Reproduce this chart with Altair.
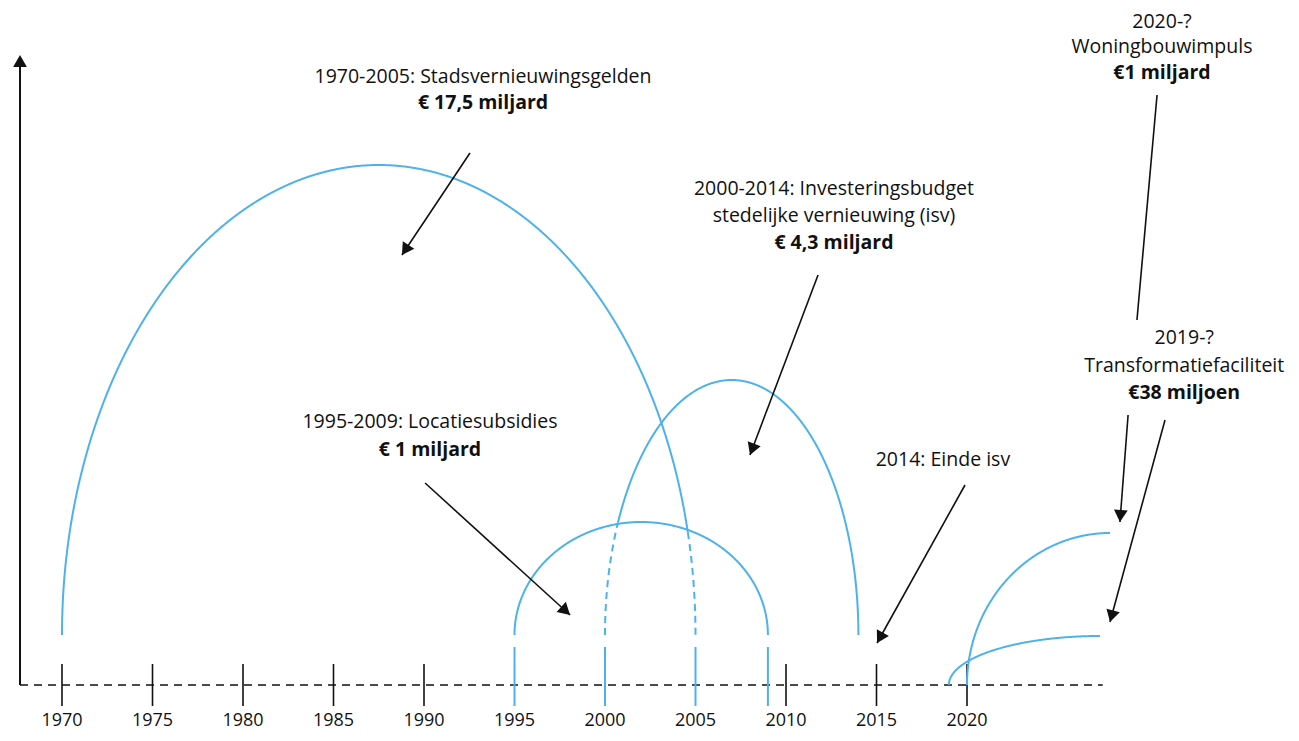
import altair as alt
import numpy as np
import pandas as pd

# ---------------- data ----------------
tick_years = [1970, 1975, 1980, 1985, 1990, 1995, 2000, 2005, 2010, 2015, 2020]
black_tick_years = [1970, 1975, 1980, 1985, 1990, 2010, 2015, 2020]
blue_stub_years = [1995, 2000, 2005, 2009]

# half-arc programmes (start, end, relative height)
arc_names = ["Stadsvernieuwingsgelden", "Locatiesubsidies", "ISV"]
arc_start = [1970, 1995, 2000]
arc_end = [2005, 2009, 2014]
arc_base = [50, 50, 50]
arc_height = [470, 113, 255]

# open-ended programmes (quarter arcs)
q_names = ["Woningbouwimpuls", "Transformatiefaciliteit"]
q_start = [2020, 2019]
q_end = [2027.9, 2027.35]
q_height = [152, 49]

# annotation texts: (text, year, level)
normal_texts = [
    ("1970-2005: Stadsvernieuwingsgelden", 1993.26, 608),
    ("2000-2014: Investeringsbudget", 2012.65, 496),
    ("stedelijke vernieuwing (isv)", 2012.65, 469),
    ("1995-2009: Locatiesubsidies", 1990.33, 263),
    ("2014: Einde isv", 2018.67, 225),
    ("2020-?", 2030.77, 663),
    ("Woningbouwimpuls", 2030.77, 638),
    ("2019-?", 2032.0, 347),
    ("Transformatiefaciliteit", 2032.0, 319),
]
bold_texts = [
    ("€ 17,5 miljard", 1993.26, 582),
    ("€ 4,3 miljard", 2012.65, 442),
    ("€ 1 miljard", 1990.33, 235),
    ("€1 miljard", 2030.77, 612),
    ("€38 miljoen", 2032.0, 292),
]

# annotation arrows: (from year, from level, to year, to level, has head)
arrows = [
    (1992.54, 532, 1988.78, 430, True),
    (1990.06, 202, 1998.07, 70, True),
    (2011.77, 410, 2008.01, 230, True),
    (2019.89, 200, 2015.03, 42, True),
    (2030.50, 590, 2029.39, 365, False),
    (2028.90, 270, 2028.45, 163, True),
    (2030.94, 265, 2027.90, 63, True),
]

axis_x = 1967.68
baseline_end = 2027.5
axis_top = 630

# ---------------- layout ----------------
W, H = 1283, 725
PX_PER_YEAR = 18.1
x0 = 1970 - 54 / PX_PER_YEAR
x1 = x0 + W / PX_PER_YEAR
y0, y1 = -48, 677
PX_PER_V = H / (y1 - y0)

BLUE = "#4db2ec"
INK = "#111111"
FONT = "Open Sans"
FS = 19.5

xs = alt.Scale(domain=[x0, x1], nice=False, zero=False)
ys = alt.Scale(domain=[y0, y1], nice=False, zero=False)


def X(f="x"):
    return alt.X(f"{f}:Q", scale=xs, axis=None)


def Y(f="y"):
    return alt.Y(f"{f}:Q", scale=ys, axis=None)


# ---------------- arcs ----------------
rows = []
seg_id = 0
c2 = (arc_start[1] + arc_end[1]) / 2
a2 = (arc_end[1] - arc_start[1]) / 2


def inside_arc2(x, y):
    return ((x - c2) / a2) ** 2 + ((y - arc_base[1]) / arc_height[1]) ** 2 < 1


for i in range(len(arc_names)):
    c = (arc_start[i] + arc_end[i]) / 2
    a = (arc_end[i] - arc_start[i]) / 2
    t = np.linspace(np.pi, 0, 400)
    px = c + a * np.cos(t)
    py = arc_base[i] + arc_height[i] * np.sin(t)
    styles = ["dashed" if (i != 1 and inside_arc2(xx, yy)) else "solid" for xx, yy in zip(px, py)]
    cur = styles[0]
    seg_id += 1
    for k in range(len(px)):
        if styles[k] != cur:
            rows.append(dict(x=px[k], y=py[k], seg=seg_id, style=cur, o=k))
            cur = styles[k]
            seg_id += 1
        rows.append(dict(x=px[k], y=py[k], seg=seg_id, style=cur, o=k))

for i in range(len(q_names)):
    a = q_end[i] - q_start[i]
    t = np.linspace(0, np.pi / 2, 200)
    px = q_end[i] - a * np.cos(t)
    py = q_height[i] * np.sin(t)
    seg_id += 1
    for k in range(len(px)):
        rows.append(dict(x=px[k], y=py[k], seg=seg_id, style="solid", o=k))

arc_df = pd.DataFrame(rows)

arc_layer = alt.Chart(arc_df).mark_line(color=BLUE, strokeWidth=2).encode(
    x=X(), y=Y(), detail="seg:N", order="o:Q",
    strokeDash=alt.StrokeDash("style:N", scale=alt.Scale(domain=["solid", "dashed"], range=[[1, 0], [7, 5]]), legend=None),
)

stub_df = pd.DataFrame({"x": blue_stub_years, "y": [38] * 4, "y2": [-21] * 4})
stub_layer = alt.Chart(stub_df).mark_rule(color=BLUE, strokeWidth=2).encode(x=X(), y=Y(), y2="y2:Q")

# ---------------- axis ----------------
base_df = pd.DataFrame({"x": [axis_x], "x2": [baseline_end], "y": [0]})
base_layer = alt.Chart(base_df).mark_rule(color=INK, strokeWidth=1.5, strokeDash=[8, 6]).encode(
    x=X(), x2="x2:Q", y=Y())

vaxis_df = pd.DataFrame({"x": [axis_x], "y": [0], "y2": [axis_top - 8]})
vaxis_layer = alt.Chart(vaxis_df).mark_rule(color=INK, strokeWidth=2).encode(x=X(), y=Y(), y2="y2:Q")

tick_df = pd.DataFrame({"x": black_tick_years, "y": [21] * len(black_tick_years), "y2": [-21] * len(black_tick_years)})
tick_layer = alt.Chart(tick_df).mark_rule(color=INK, strokeWidth=1.6).encode(x=X(), y=Y(), y2="y2:Q")

lab_df = pd.DataFrame({"x": tick_years, "y": [-36] * len(tick_years), "t": [str(v) for v in tick_years]})
lab_layer = alt.Chart(lab_df).mark_text(font=FONT, fontSize=18, color=INK, baseline="middle", align="center").encode(
    x=X(), y=Y(), text="t:N")

# ---------------- arrows ----------------
arrow_rows = []
head_rows = []
for (xa, ya, xb, yb, head) in arrows:
    arrow_rows.append(dict(x=xa, y=ya, x2=xb, y2=yb))
    if head:
        dx = (xb - xa) * PX_PER_YEAR
        dy = -(yb - ya) * PX_PER_V
        L = np.hypot(dx, dy)
        ux, uy = dx / L, dy / L
        ang = (np.degrees(np.arctan2(dx, -dy)) + 360) % 360
        head_rows.append(dict(x=xb - 6 * ux / PX_PER_YEAR, y=yb + 6 * uy / PX_PER_V, ang=ang))
# vertical axis head
head_rows.append(dict(x=axis_x, y=axis_top - 6 / PX_PER_V, ang=0.0))

arrow_df = pd.DataFrame(arrow_rows)
head_df = pd.DataFrame(head_rows)

arrow_layer = alt.Chart(arrow_df).mark_rule(color=INK, strokeWidth=1.6).encode(
    x=X(), y=Y(), x2="x2:Q", y2="y2:Q")
head_layer = alt.Chart(head_df).mark_point(shape="triangle-up", filled=True, color=INK, size=190, opacity=1).encode(
    x=X(), y=Y(), angle=alt.Angle("ang:Q", scale=None))

# ---------------- texts ----------------
nt_df = pd.DataFrame(normal_texts, columns=["t", "x", "y"])
bt_df = pd.DataFrame(bold_texts, columns=["t", "x", "y"])
nt_layer = alt.Chart(nt_df).mark_text(font=FONT, fontSize=FS, color=INK, baseline="middle", align="center").encode(
    x=X(), y=Y(), text="t:N")
bt_layer = alt.Chart(bt_df).mark_text(font=FONT, fontSize=FS, fontWeight="bold", color=INK, baseline="middle", align="center").encode(
    x=X(), y=Y(), text="t:N")

chart = alt.layer(
    base_layer, vaxis_layer, tick_layer, stub_layer, arc_layer, arrow_layer, head_layer, lab_layer, nt_layer, bt_layer
).properties(
    width=W, height=H, padding=0, autosize=alt.AutoSizeParams(type="none"), background="white"
).configure_view(stroke=None)

chart.save("out.html", embed_options={"renderer": "svg", "actions": False})
